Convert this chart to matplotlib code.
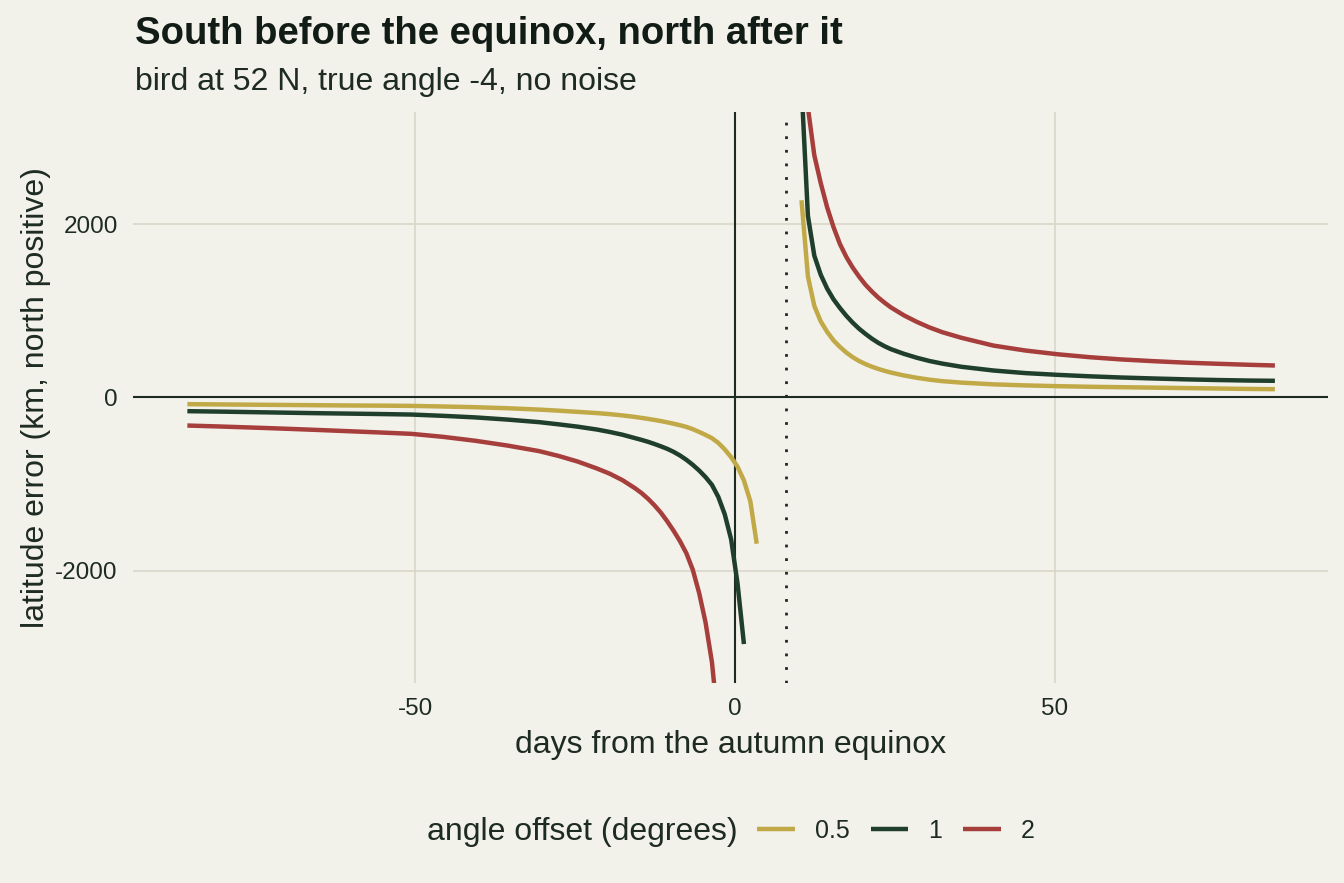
import matplotlib
matplotlib.use("Agg")
import matplotlib.pyplot as plt
from matplotlib.lines import Line2D

plt.rcParams["font.family"] = ["Liberation Sans", "DejaVu Sans"]
plt.rcParams["axes.unicode_minus"] = False

# ======================================================
# DATA
# ======================================================
TITLE = "South before the equinox, north after it"
SUBTITLE = "bird at 52 N, true angle -4, no noise"
XLABEL = "days from the autumn equinox"
YLABEL = "latitude error (km, north positive)"
LEGEND_TITLE = "angle offset (degrees)"

offsets = ["0.5", "1", "2"]
equinox_marker = 8.0

# gold, offset 0.5
x_05_before = [-85.6, -80.6, -75.6, -70.6, -65.6, -60.6, -55.6, -50.6, -45.6, -40.6,
               -35.6, -30.6, -27.6, -24.6, -21.6, -19.6, -17.6, -15.6, -13.6, -11.6,
               -10.6, -9.6, -8.6, -7.6, -6.6, -5.6, -4.6, -3.6, -2.6, -1.6,
               -0.6, 0.4, 1.4, 2.4, 3.4]
y_05_before = [-77, -80, -83, -86, -89, -92, -94, -97, -104, -112,
               -124, -140, -152, -166, -180, -192, -207, -225, -247, -272,
               -287, -303, -320, -340, -366, -398, -432, -470, -525, -600,
               -690, -800, -960, -1200, -1690]
x_05_after = [10.4, 11.4, 12.4, 13.4, 14.4, 15.4, 16.4, 17.4, 18.4, 19.4,
              20.4, 21.4, 22.4, 23.4, 24.4, 26.4, 28.4, 30.4, 32.4, 35.4,
              40.4, 45.4, 50.4, 55.4, 60.4, 65.4, 70.4, 75.4, 80.4, 84.4]
y_05_after = [2280, 1400, 1060, 880, 760, 660, 585, 520, 466, 422,
              386, 356, 330, 308, 288, 255, 228, 206, 189, 172,
              152, 140, 131, 124, 119, 114, 109, 104, 99, 96]

# green, offset 1
x_1_before = [-85.6, -80.6, -75.6, -70.6, -65.6, -60.6, -55.6, -50.6, -45.6, -40.6,
              -35.6, -30.6, -27.6, -24.6, -21.6, -19.6, -17.6, -15.6, -14.6, -13.6,
              -12.6, -11.6, -10.6, -9.6, -8.6, -7.6, -6.6, -5.6, -4.6, -3.6,
              -2.6, -1.6, -0.6, 0.4, 1.4]
y_1_before = [-158, -163, -169, -175, -181, -186, -191, -197, -212, -230,
              -255, -285, -310, -337, -370, -398, -430, -470, -490, -512,
              -537, -564, -593, -628, -670, -720, -778, -844, -920, -1010,
              -1150, -1350, -1640, -2150, -2850]
x_1_after = [10.4, 11.4, 12.4, 13.4, 14.4, 15.4, 16.4, 17.4, 18.4, 19.4,
             20.4, 21.4, 22.4, 23.4, 24.4, 26.4, 28.4, 30.4, 32.4, 35.4,
             40.4, 45.4, 50.4, 55.4, 60.4, 65.4, 70.4, 75.4, 80.4, 84.4]
y_1_after = [3600, 2100, 1640, 1420, 1260, 1135, 1035, 945, 865, 795,
             735, 680, 632, 592, 558, 505, 460, 422, 392, 355,
             312, 282, 262, 245, 231, 220, 210, 202, 196, 193]

# red, offset 2
x_2_before = [-85.6, -80.6, -75.6, -70.6, -65.6, -60.6, -55.6, -50.6, -45.6, -40.6,
              -35.6, -30.6, -27.6, -24.6, -21.6, -19.6, -17.6, -15.6, -14.6, -13.6,
              -12.6, -11.6, -10.6, -9.6, -8.6, -7.6, -6.6, -5.6, -4.6, -3.6,
              -2.6]
y_2_before = [-324, -335, -347, -360, -374, -389, -404, -420, -455, -500,
              -555, -620, -675, -740, -820, -880, -955, -1050, -1105, -1170,
              -1245, -1330, -1430, -1540, -1660, -1800, -1990, -2260, -2600, -3060,
              -3800]
x_2_after = [11.4, 12.4, 13.4, 14.4, 15.4, 16.4, 17.4, 18.4, 19.4, 20.4,
             21.4, 22.4, 23.4, 24.4, 26.4, 28.4, 30.4, 32.4, 35.4, 40.4,
             45.4, 50.4, 55.4, 60.4, 65.4, 70.4, 75.4, 80.4, 84.4]
y_2_after = [3350, 2800, 2480, 2200, 1970, 1775, 1625, 1502, 1397, 1303,
             1225, 1155, 1095, 1040, 950, 875, 810, 755, 690, 600,
             543, 500, 466, 440, 420, 403, 390, 378, 370]

# ======================================================
# STYLE
# ======================================================
BG = "#f2f1ea"
GRID = "#d6d5c6"
INK = "#1d2b22"
TITLE_INK = "#121c16"
COLORS = {"0.5": "#c2a948", "1": "#1f3f2c", "2": "#a63e3c"}
LW = 3.2

series = {
    "0.5": [(x_05_before, y_05_before), (x_05_after, y_05_after)],
    "1": [(x_1_before, y_1_before), (x_1_after, y_1_after)],
    "2": [(x_2_before, y_2_before), (x_2_after, y_2_after)],
}

fig = plt.figure(figsize=(13.44, 8.83), dpi=100, facecolor=BG)
ax = fig.add_axes([133 / 1344, 1 - 683 / 883, 1195 / 1344, 571 / 883])
ax.set_facecolor(BG)

for s in ax.spines.values():
    s.set_visible(False)

ax.set_xlim(-94.1, 92.7)
ax.set_ylim(-3300, 3300)
ax.set_xticks([-50, 0, 50])
ax.set_yticks([-2000, 0, 2000])
ax.grid(True, color=GRID, linewidth=1.1)
ax.set_axisbelow(True)
ax.tick_params(length=0, labelsize=17.5, labelcolor=INK)
ax.tick_params(axis="x", pad=11)
ax.tick_params(axis="y", pad=11)

# reference lines
ax.axhline(0, color=INK, linewidth=1.5, zorder=2)
ax.axvline(0, color=INK, linewidth=1.5, zorder=2)
ax.axvline(equinox_marker, color=INK, linewidth=2.0, linestyle=(0, (1, 3.9)), zorder=2)

for key in offsets:
    for xs, ys in series[key]:
        ax.plot(xs, ys, color=COLORS[key], linewidth=LW, zorder=3,
                solid_capstyle="butt", solid_joinstyle="round")

ax.set_xlabel(XLABEL, fontsize=23, color=INK)
ax.xaxis.set_label_coords(0.5, -0.082)
ax.xaxis.label.set_va("top")
ax.set_ylabel(YLABEL, fontsize=23, color=INK)
ax.yaxis.set_label_coords(-0.069, 0.5)

fig.text(135 / 1344, 1 - 44 / 883, TITLE, fontsize=27.5, fontweight="bold",
         color=TITLE_INK, ha="left", va="baseline")
fig.text(135 / 1344, 1 - 90 / 883, SUBTITLE, fontsize=23, color=INK,
         ha="left", va="baseline")

# legend: title on the left, keys in one row
fig.text(738 / 1344, 1 - 840 / 883, LEGEND_TITLE, fontsize=23, color=INK,
         ha="right", va="baseline")
handles = [Line2D([], [], color=COLORS[k], linewidth=LW, solid_capstyle="butt")
           for k in offsets]
leg = fig.legend(handles, offsets, loc="center left",
                 bbox_to_anchor=(757 / 1344, 1 - 831 / 883), ncol=3,
                 frameon=False, fontsize=18, handlelength=1.5,
                 handletextpad=0.8, columnspacing=0.85, borderpad=0,
                 borderaxespad=0)
for t in leg.get_texts():
    t.set_color(INK)

fig.savefig("out.png", dpi=100, facecolor=BG)
